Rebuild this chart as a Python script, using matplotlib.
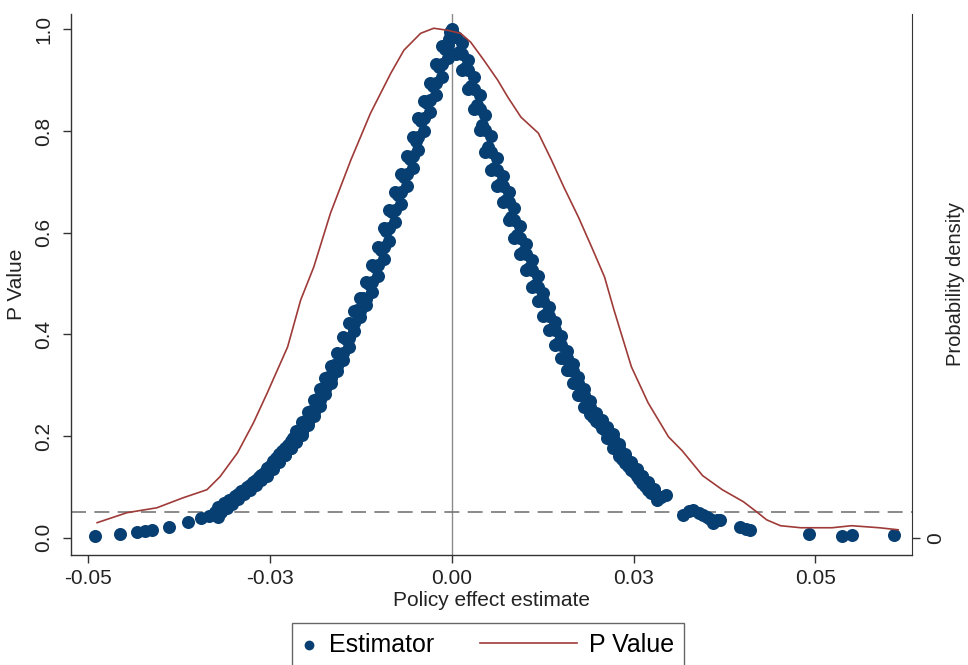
import matplotlib
matplotlib.use("Agg")
import matplotlib.pyplot as plt
from matplotlib.lines import Line2D
from matplotlib.legend_handler import HandlerLine2D

plt.rcParams['font.family'] = ['Liberation Sans', 'DejaVu Sans']

# ---------------- data ----------------
# Estimator: policy effect estimate vs p value
left_tail_x = [-0.0491, -0.0456, -0.0433, -0.0422, -0.0413, -0.0389, -0.0363, -0.0345]
left_tail_p = [0.004, 0.008, 0.011, 0.013, 0.016, 0.021, 0.030, 0.038]

# left branch, middle of the band
left_x = [-0.0326, -0.0322, -0.0322, -0.0318, -0.0314, -0.0310, -0.0306, -0.0302, -0.0298, -0.0294,
          -0.0290, -0.0286, -0.0282, -0.0278, -0.0274, -0.0270, -0.0266, -0.0262, -0.0258, -0.0254,
          -0.0250, -0.0246, -0.0242, -0.0238, -0.0234, -0.0230, -0.0226, -0.0222, -0.0218, -0.0214,
          -0.0210, -0.0206, -0.0202, -0.0198, -0.0194, -0.0190, -0.0186, -0.0182, -0.0178, -0.0174,
          -0.0170, -0.0166, -0.0162, -0.0158, -0.0154, -0.0150, -0.0146, -0.0142, -0.0138, -0.0134,
          -0.0130, -0.0126, -0.0122, -0.0118, -0.0114, -0.0110, -0.0106, -0.0102, -0.0098, -0.0094,
          -0.0090, -0.0086, -0.0082, -0.0078, -0.0074, -0.0070, -0.0066, -0.0062, -0.0058, -0.0054,
          -0.0050, -0.0046, -0.0042, -0.0038, -0.0034, -0.0030, -0.0026, -0.0022, -0.0018, -0.0014,
          -0.0010, -0.0006, -0.0002]
left_p = [0.044, 0.060, 0.041, 0.050, 0.068, 0.058, 0.074, 0.066, 0.083, 0.076,
          0.092, 0.086, 0.100, 0.094, 0.110, 0.104, 0.120, 0.113, 0.128, 0.122,
          0.142, 0.137, 0.156, 0.151, 0.170, 0.163, 0.183, 0.177, 0.196, 0.190,
          0.212, 0.208, 0.230, 0.227, 0.250, 0.247, 0.272, 0.270, 0.294, 0.292,
          0.316, 0.314, 0.339, 0.338, 0.362, 0.364, 0.391, 0.393, 0.421, 0.422,
          0.447, 0.446, 0.471, 0.470, 0.499, 0.502, 0.532, 0.536, 0.566, 0.572,
          0.603, 0.609, 0.640, 0.645, 0.675, 0.680, 0.710, 0.715, 0.744, 0.750,
          0.781, 0.788, 0.819, 0.825, 0.855, 0.860, 0.889, 0.894, 0.925, 0.932,
          0.962, 0.969, 0.995]

# left branch, outer edge of the band
left_out_x = [-0.0334, -0.0326, -0.0318, -0.0310, -0.0302, -0.0294, -0.0286, -0.0278, -0.0270, -0.0262,
              -0.0254, -0.0246, -0.0238, -0.0230, -0.0222, -0.0214, -0.0206, -0.0198, -0.0190, -0.0182,
              -0.0174, -0.0166, -0.0158, -0.0150, -0.0142, -0.0134, -0.0126, -0.0118, -0.0110, -0.0102,
              -0.0094, -0.0086, -0.0078, -0.0070, -0.0062, -0.0054, -0.0046, -0.0038, -0.0030, -0.0022,
              -0.0014]
left_out_p = [0.042, 0.050, 0.058, 0.066, 0.076, 0.085, 0.094, 0.103, 0.113, 0.123,
              0.137, 0.151, 0.164, 0.177, 0.190, 0.209, 0.228, 0.248, 0.270, 0.292,
              0.315, 0.338, 0.364, 0.394, 0.422, 0.446, 0.471, 0.503, 0.536, 0.572,
              0.609, 0.645, 0.680, 0.715, 0.751, 0.788, 0.825, 0.859, 0.894, 0.931,
              0.968]

# left branch, inner edge of the band
left_in_x = [-0.0318, -0.0310, -0.0302, -0.0294, -0.0286, -0.0278, -0.0270, -0.0262, -0.0254, -0.0246,
             -0.0238, -0.0230, -0.0222, -0.0214, -0.0206, -0.0198, -0.0190, -0.0182, -0.0174, -0.0166,
             -0.0158, -0.0150, -0.0142, -0.0134, -0.0126, -0.0118, -0.0110, -0.0102, -0.0094, -0.0086,
             -0.0078, -0.0070, -0.0062, -0.0054, -0.0046, -0.0038, -0.0030, -0.0022, -0.0014, -0.0006,
             -0.0004]
left_in_p = [0.054, 0.062, 0.070, 0.078, 0.088, 0.097, 0.106, 0.115, 0.125, 0.135,
             0.149, 0.163, 0.176, 0.189, 0.202, 0.221, 0.240, 0.260, 0.282, 0.304,
             0.327, 0.350, 0.376, 0.406, 0.434, 0.458, 0.483, 0.515, 0.548, 0.584,
             0.621, 0.657, 0.692, 0.727, 0.763, 0.800, 0.837, 0.871, 0.906, 0.943,
             0.980]

# right branch, middle of the band
right_x = [0.0000, 0.0002, 0.0006, 0.0010, 0.0014, 0.0018, 0.0022, 0.0026, 0.0030, 0.0034, 0.0038,
           0.0042, 0.0046, 0.0050, 0.0054, 0.0058, 0.0062, 0.0066, 0.0070, 0.0074, 0.0078,
           0.0082, 0.0086, 0.0090, 0.0094, 0.0098, 0.0102, 0.0106, 0.0110, 0.0114, 0.0118,
           0.0122, 0.0126, 0.0130, 0.0134, 0.0138, 0.0142, 0.0146, 0.0150, 0.0154, 0.0158,
           0.0162, 0.0166, 0.0170, 0.0174, 0.0178, 0.0182, 0.0186, 0.0190, 0.0194, 0.0198,
           0.0202, 0.0206, 0.0210, 0.0214, 0.0218, 0.0222, 0.0226, 0.0230, 0.0234, 0.0238,
           0.0242, 0.0246, 0.0250, 0.0254, 0.0258, 0.0262, 0.0266, 0.0270, 0.0274, 0.0278,
           0.0282, 0.0288, 0.0294]
right_p = [1.000, 0.990, 0.984, 0.956, 0.952, 0.924, 0.919, 0.889, 0.882, 0.851, 0.844,
           0.811, 0.802, 0.768, 0.758, 0.727, 0.724, 0.696, 0.692, 0.665, 0.660,
           0.631, 0.625, 0.596, 0.590, 0.562, 0.558, 0.530, 0.526, 0.498, 0.494,
           0.468, 0.465, 0.439, 0.437, 0.410, 0.408, 0.382, 0.379, 0.354, 0.353,
           0.329, 0.328, 0.304, 0.304, 0.280, 0.281, 0.257, 0.257, 0.238, 0.243,
           0.225, 0.230, 0.211, 0.216, 0.194, 0.196, 0.174, 0.177, 0.155, 0.160,
           0.142, 0.147, 0.129, 0.134, 0.116, 0.121, 0.102, 0.107, 0.088, 0.093,
           0.074, 0.080, 0.084]

# right branch, outer edge of the band
right_out_x = [0.0014, 0.0022, 0.0030, 0.0038, 0.0046, 0.0054, 0.0062, 0.0070, 0.0078, 0.0086,
               0.0094, 0.0102, 0.0110, 0.0118, 0.0126, 0.0134, 0.0142, 0.0150, 0.0158, 0.0166,
               0.0174, 0.0182, 0.0190, 0.0198, 0.0206, 0.0214, 0.0222, 0.0230, 0.0238, 0.0246,
               0.0254, 0.0262, 0.0270, 0.0278, 0.0286]
right_out_p = [0.972, 0.940, 0.907, 0.870, 0.832, 0.790, 0.746, 0.712, 0.680, 0.648,
               0.613, 0.578, 0.546, 0.514, 0.482, 0.453, 0.425, 0.396, 0.367, 0.341,
               0.317, 0.292, 0.269, 0.245, 0.231, 0.218, 0.204, 0.184, 0.165, 0.148,
               0.135, 0.122, 0.109, 0.095, 0.081]

# right branch, inner edge of the band
right_in_x = [0.0003, 0.0006, 0.0014, 0.0022, 0.0030, 0.0038, 0.0046, 0.0054, 0.0062, 0.0070,
              0.0078, 0.0086, 0.0094, 0.0102, 0.0110, 0.0118, 0.0126, 0.0134, 0.0142, 0.0150,
              0.0158, 0.0166, 0.0174, 0.0182, 0.0190, 0.0198, 0.0206, 0.0214, 0.0222, 0.0230,
              0.0238, 0.0246, 0.0254, 0.0262, 0.0270]
right_in_p = [0.984, 0.952, 0.919, 0.882, 0.844, 0.802, 0.758, 0.724, 0.692, 0.660,
              0.625, 0.590, 0.558, 0.526, 0.494, 0.465, 0.437, 0.408, 0.379, 0.353,
              0.329, 0.304, 0.281, 0.257, 0.243, 0.230, 0.216, 0.196, 0.177, 0.160,
              0.147, 0.134, 0.121, 0.107, 0.093]

right_tail_x = [0.0318, 0.0326, 0.0332, 0.0340, 0.0346, 0.0351, 0.0355, 0.0359, 0.0365, 0.0369,
                0.0396, 0.0404, 0.0410, 0.0491, 0.0537, 0.0550, 0.0608]
right_tail_p = [0.045, 0.052, 0.055, 0.048, 0.044, 0.041, 0.036, 0.029, 0.034, 0.035,
                0.022, 0.018, 0.016, 0.008, 0.004, 0.006, 0.006]

est_x = (left_tail_x + left_out_x + left_x + left_in_x
         + right_in_x + right_x + right_out_x + right_tail_x)
est_p = (left_tail_p + left_out_p + left_p + left_in_p
         + right_in_p + right_p + right_out_p + right_tail_p)

# Kernel density of the estimates (right axis)
dens_x = [-0.0488, -0.0447, -0.0406, -0.0370, -0.0337, -0.0319, -0.0295, -0.0273, -0.0254, -0.0226,
          -0.0208, -0.0190, -0.0167, -0.0139, -0.0112, -0.0084, -0.0066, -0.0043, -0.0025, -0.0006,
          0.0012, 0.0026, 0.0044, 0.0063, 0.0077, 0.0095, 0.0119, 0.0137, 0.0154, 0.0174,
          0.0194, 0.0210, 0.0223, 0.0247, 0.0270, 0.0298, 0.0317, 0.0345, 0.0372, 0.0401,
          0.0419, 0.0433, 0.0452, 0.0480, 0.0523, 0.0550, 0.0588, 0.0614]
dens_y = [0.74, 1.23, 1.47, 1.96, 2.36, 3.00, 4.17, 5.65, 7.12, 9.38,
          11.69, 13.31, 15.96, 18.57, 20.87, 22.84, 23.97, 24.80, 25.05, 24.95,
          24.80, 24.36, 23.48, 22.50, 21.66, 20.68, 19.89, 18.57, 17.24, 15.77,
          14.15, 12.82, 11.20, 8.40, 6.63, 4.96, 4.27, 3.05, 2.36, 1.77,
          1.28, 0.88, 0.59, 0.49, 0.49, 0.59, 0.49, 0.39]

xticks = [-0.05, -0.025, 0.0, 0.025, 0.05]
xtick_labels = ['-0.05', '-0.03', '0.00', '0.03', '0.05']
yticks = [0.0, 0.2, 0.4, 0.6, 0.8, 1.0]
ytick_labels = ['0.0', '0.2', '0.4', '0.6', '0.8', '1.0']
sig_level = 0.05

# ---------------- styling ----------------
NAVY = '#083f72'
MAROON = '#9e3b38'
AXC = '#333333'

fig = plt.figure(figsize=(9.68, 6.65), dpi=100)
ax = fig.add_axes([71/968, 1-555/665, (912-71)/968, (555-14)/665])

xlim = (-0.0524, 0.0633)
ylim = (-0.034, 1.030)
dscale = 25.0

ax.axvline(0.0, color='#8a8a8a', lw=1.0, zorder=1)
ax.axhline(sig_level, color='#777777', lw=1.2, dashes=(9, 5), zorder=1)
sc = ax.scatter(est_x, est_p, s=88, color=NAVY, linewidths=0, zorder=2, label='Estimator')

ax.set_xlim(*xlim)
ax.set_ylim(*ylim)
ax.set_xticks(xticks)
ax.set_xticklabels(xtick_labels)
ax.set_yticks(yticks)
ax.set_yticklabels(ytick_labels, rotation=90, va='center')
ax.tick_params(axis='both', labelsize=15, length=6, width=1, color=AXC, labelcolor='#222222')
ax.tick_params(axis='y', pad=7)
ax.tick_params(axis='x', pad=4)
for s in ['top', 'right']:
    ax.spines[s].set_visible(False)
for s in ['left', 'bottom']:
    ax.spines[s].set_color(AXC)
    ax.spines[s].set_linewidth(1.0)
ax.set_xlabel('Policy effect estimate', fontsize=15, labelpad=2, color='#222222')
ax.set_ylabel('P Value', fontsize=15, labelpad=6, color='#222222')

ax2 = ax.twinx()
ln, = ax2.plot(dens_x, dens_y, color=MAROON, lw=1.2, label='P Value')
ax2.set_ylim(ylim[0]*dscale, ylim[1]*dscale)
ax2.set_yticks([0])
ax2.set_yticklabels(['0'], rotation=90, va='center')
ax2.tick_params(axis='y', labelsize=15, length=6, width=1, color=AXC, labelcolor='#222222', pad=4)
for s in ['top', 'left', 'bottom']:
    ax2.spines[s].set_visible(False)
ax2.spines['right'].set_color(AXC)
ax2.set_ylabel('Probability density', fontsize=14.5, labelpad=1, color='#222222')


class LongLine(HandlerLine2D):
    def __init__(self, length_pts, **kw):
        super().__init__(**kw)
        self.length = length_pts

    def create_artists(self, legend, orig_handle, xdescent, ydescent,
                       width, height, fontsize, trans):
        y = height / 2 - ydescent
        x1 = width - xdescent
        x0 = x1 - self.length
        line = Line2D([x0, x1], [y, y])
        self.update_prop(line, orig_handle, legend)
        line.set_transform(trans)
        return [line]


leg = fig.legend([sc, ln], ['Estimator', 'P Value'], loc='upper center',
                 bbox_to_anchor=(488/968, 1-610/665), ncol=2, fontsize=18,
                 frameon=True, fancybox=False, edgecolor='#404040',
                 handlelength=0.6, handletextpad=0.5, columnspacing=5.1,
                 borderpad=0.4, markerscale=0.75, scatterpoints=1,
                 handler_map={ln: LongLine(70)})
leg.get_frame().set_linewidth(1.0)

fig.savefig('out.png', dpi=100, facecolor='white')
